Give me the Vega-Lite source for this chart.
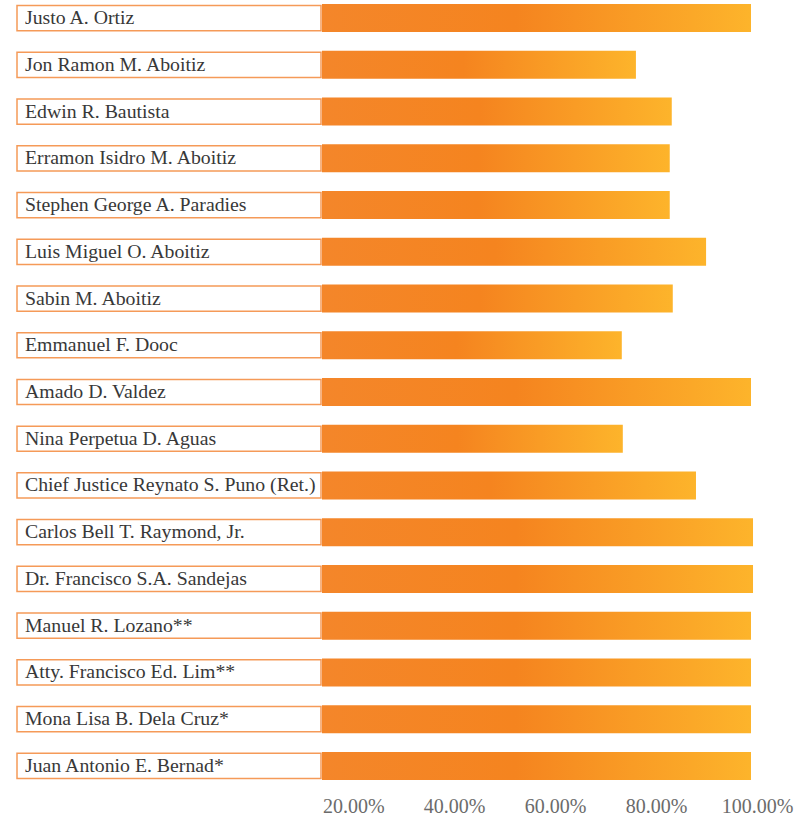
{
  "$schema": "https://vega.github.io/schema/vega-lite/v6.json",
  "padding": {"left": 16, "top": 4, "right": 5, "bottom": 0},
  "background": "white",
  "config": {"view": {"stroke": null}, "concat": {"spacing": 0}},
  "data": {"values": [
    {"name": "Justo A. Ortiz", "pct": 100},
    {"name": "Jon Ramon M. Aboitiz", "pct": 77.2},
    {"name": "Edwin R. Bautista", "pct": 84.3},
    {"name": "Erramon Isidro M. Aboitiz", "pct": 83.9},
    {"name": "Stephen George A. Paradies", "pct": 83.9},
    {"name": "Luis Miguel O. Aboitiz", "pct": 91.1},
    {"name": "Sabin M. Aboitiz", "pct": 84.5},
    {"name": "Emmanuel F. Dooc", "pct": 74.4},
    {"name": "Amado D. Valdez", "pct": 100},
    {"name": "Nina Perpetua D. Aguas", "pct": 74.6},
    {"name": "Chief Justice Reynato S. Puno (Ret.)", "pct": 89.1},
    {"name": "Carlos Bell T. Raymond, Jr.", "pct": 100.4},
    {"name": "Dr. Francisco S.A. Sandejas", "pct": 100.4},
    {"name": "Manuel R. Lozano**", "pct": 100},
    {"name": "Atty. Francisco Ed. Lim**", "pct": 100},
    {"name": "Mona Lisa B. Dela Cruz*", "pct": 100},
    {"name": "Juan Antonio E. Bernad*", "pct": 100}
  ]},
  "hconcat": [
    {
      "width": 304,
      "height": 776,
      "layer": [
        {
          "mark": {"type": "bar", "fill": "white", "stroke": "#F59A58", "strokeWidth": 1.5, "height": {"band": 0.9}},
          "encoding": {
            "y": {"field": "name", "type": "nominal", "sort": null, "axis": null, "scale": {"paddingInner": 0.4, "paddingOuter": 0}},
            "x": {"datum": 0, "type": "quantitative", "scale": {"domain": [0, 1]}, "axis": null},
            "x2": {"datum": 1}
          }
        },
        {
          "mark": {"type": "text", "align": "left", "baseline": "middle", "dx": 8, "font": "Liberation Serif", "fontSize": 19.8, "color": "#383838"},
          "encoding": {
            "y": {"field": "name", "type": "nominal", "sort": null, "axis": null},
            "x": {"datum": 0, "type": "quantitative"},
            "text": {"field": "name"}
          }
        }
      ]
    },
    {
      "width": 429,
      "height": 776,
      "mark": {
        "type": "bar",
        "fill": {
          "gradient": "linear", "x1": 0, "y1": 0, "x2": 1, "y2": 0,
          "stops": [
            {"offset": 0, "color": "#F4862A"},
            {"offset": 0.45, "color": "#F5841F"},
            {"offset": 1, "color": "#FDB42B"}
          ]
        }
      },
      "encoding": {
        "y": {"field": "name", "type": "nominal", "sort": null, "axis": null, "scale": {"paddingInner": 0.4, "paddingOuter": 0}},
        "x": {
          "field": "pct", "type": "quantitative",
          "scale": {"domain": [15, 100], "nice": false, "zero": false},
          "axis": {
            "values": [20, 40, 60, 80, 100],
            "labelExpr": "format(datum.value, '.2f') + '%'",
            "ticks": false, "domain": false, "grid": false, "title": null,
            "labelFont": "Liberation Serif", "labelFontSize": 20, "labelColor": "#6b6b6b",
            "labelPadding": 16, "labelOffset": 6, "labelFlush": false, "labelOverlap": false
          }
        },
        "x2": {"datum": 15}
      }
    }
  ]
}
